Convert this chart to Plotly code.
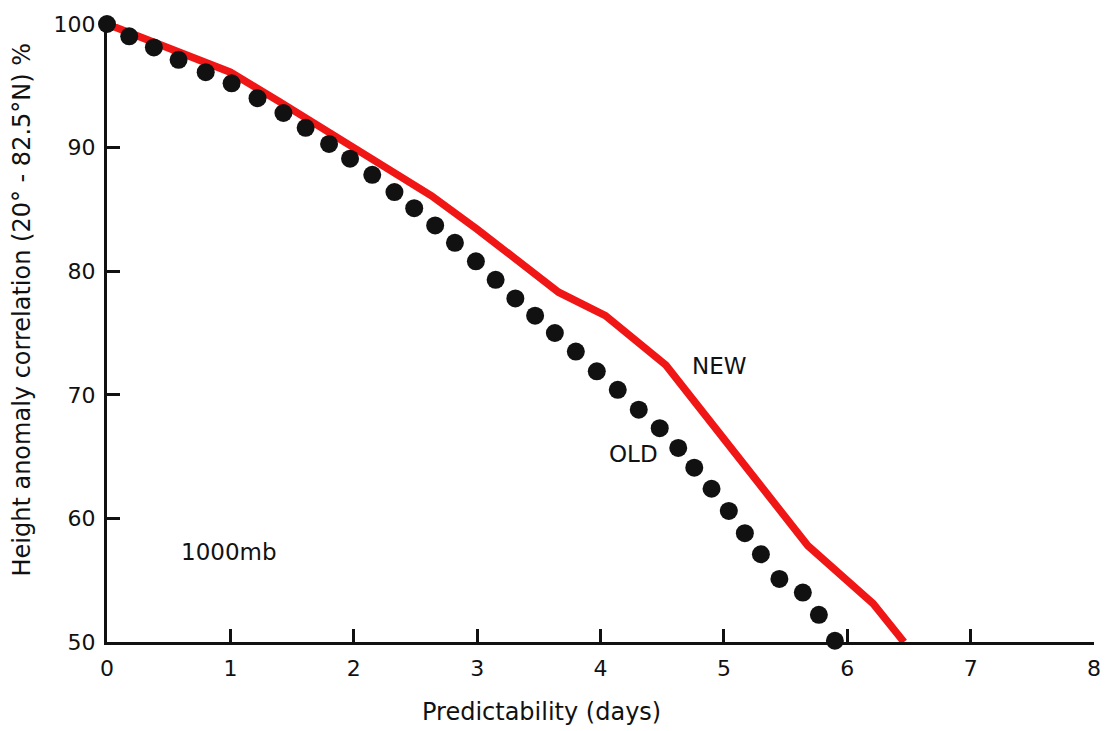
import plotly.graph_objects as go

# ---- data ----
old_x = [0, 0.18, 0.38, 0.58, 0.80, 1.01, 1.22, 1.43, 1.61, 1.80, 1.97, 2.15, 2.33, 2.49, 2.66, 2.82, 2.99, 3.15, 3.31, 3.47, 3.63, 3.80, 3.97, 4.14, 4.31, 4.48, 4.63, 4.76, 4.90, 5.04, 5.17, 5.30, 5.45, 5.64, 5.77, 5.90]
old_y = [100, 99.0, 98.1, 97.1, 96.1, 95.2, 94.0, 92.8, 91.6, 90.3, 89.1, 87.8, 86.4, 85.1, 83.7, 82.3, 80.8, 79.3, 77.8, 76.4, 75.0, 73.5, 71.9, 70.4, 68.8, 67.3, 65.7, 64.1, 62.4, 60.6, 58.8, 57.1, 55.1, 54.0, 52.2, 50.1]

new_x = [0, 1.0, 1.40, 1.94, 2.63, 3.0, 3.66, 4.04, 4.53, 5.68, 6.21, 6.46]
new_y = [100, 96.1, 93.7, 90.3, 86.1, 83.4, 78.3, 76.4, 72.4, 57.8, 53.1, 50.0]

x_ticks = [0, 1, 2, 3, 4, 5, 6, 7, 8]
y_ticks = [50, 60, 70, 80, 90, 100]

labels = ["NEW", "OLD", "1000mb"]
label_x = [4.96, 4.27, 0.99]
label_y = [72.3, 65.2, 57.3]

FONT = "DejaVu Sans, Liberation Sans, Arial, sans-serif"
INK = "#111111"

fig = go.Figure()
fig.add_trace(go.Scatter(
    x=new_x, y=new_y, mode="lines",
    line=dict(color="#f01616", width=7.5),
    cliponaxis=False, showlegend=False, hoverinfo="skip",
))
fig.add_trace(go.Scatter(
    x=old_x, y=old_y, mode="markers",
    marker=dict(color=INK, size=18, line=dict(width=0)),
    cliponaxis=False, showlegend=False, hoverinfo="skip",
))

for t, xx, yy in zip(labels, label_x, label_y):
    fig.add_annotation(x=xx, y=yy, text=t, showarrow=False,
                       font=dict(family=FONT, size=23, color=INK),
                       xanchor="center", yanchor="middle")

# axis titles
fig.add_annotation(xref="paper", yref="paper", x=0.44, y=0, yshift=-70,
                   text="Predictability (days)", showarrow=False,
                   font=dict(family=FONT, size=24, color=INK),
                   xanchor="center", yanchor="middle")
fig.add_annotation(xref="paper", yref="paper", x=0, y=0.538, xshift=-85,
                   text="Height anomaly correlation (20° - 82.5°N) %",
                   textangle=-90, showarrow=False,
                   font=dict(family=FONT, size=24, color=INK),
                   xanchor="center", yanchor="middle")

fig.update_layout(
    width=1113, height=731,
    margin=dict(l=107, r=16, t=19, b=89),
    paper_bgcolor="white", plot_bgcolor="white",
    showlegend=False,
)
fig.update_xaxes(
    range=[0, 8], tickvals=x_ticks, ticktext=[str(v) for v in x_ticks],
    showgrid=False, zeroline=False,
    showline=True, linecolor=INK, linewidth=3,
    ticks="inside", ticklen=13, tickwidth=2.5, tickcolor=INK,
    tickfont=dict(family=FONT, size=22, color=INK),
    ticklabelstandoff=5,
)
fig.update_yaxes(
    range=[50, 100], tickvals=y_ticks, ticktext=[str(v) for v in y_ticks],
    showgrid=False, zeroline=False,
    showline=True, linecolor=INK, linewidth=3,
    ticks="inside", ticklen=13, tickwidth=2.5, tickcolor=INK,
    tickfont=dict(family=FONT, size=22, color=INK),
    ticklabelstandoff=4,
)

fig.write_html("out.html")
